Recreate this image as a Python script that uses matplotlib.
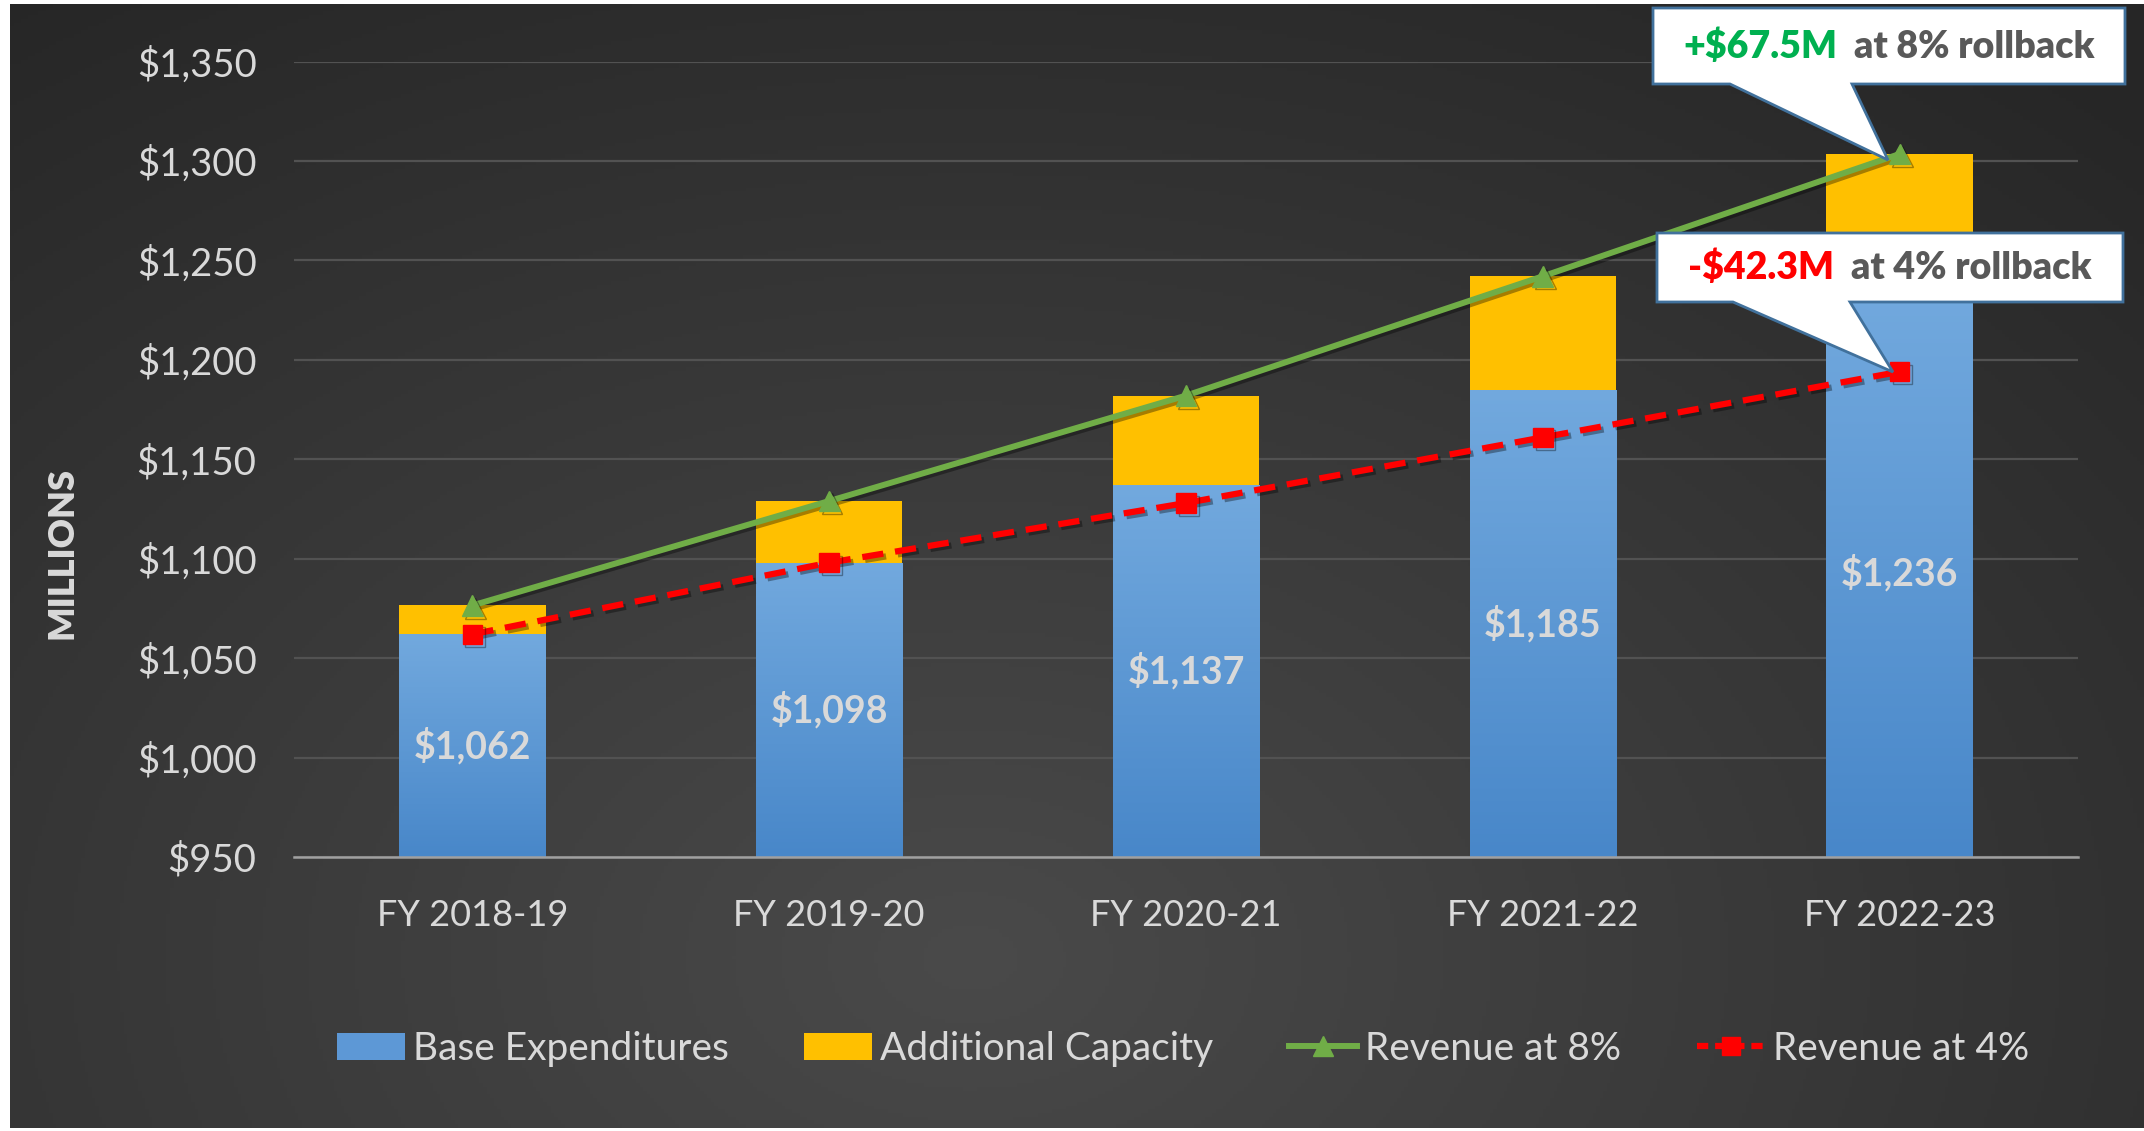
import numpy as np
import matplotlib.pyplot as plt
import matplotlib.patheffects as pe
from matplotlib.colors import LinearSegmentedColormap
from matplotlib.lines import Line2D
from matplotlib.patches import Patch, Polygon
from matplotlib.offsetbox import TextArea, HPacker, AnnotationBbox

plt.rcParams['font.family'] = ['Lato', 'DejaVu Sans']

years = ["FY 2018-19", "FY 2019-20", "FY 2020-21", "FY 2021-22", "FY 2022-23"]
base_exp = [1062, 1098, 1137, 1185, 1236]
rev_8 = [1076.5, 1129, 1182, 1242, 1303.5]
rev_4 = [1062, 1098, 1128, 1161, 1194]
add_cap = [r - b for r, b in zip(rev_8, base_exp)]
y_ticks = [950, 1000, 1050, 1100, 1150, 1200, 1250, 1300, 1350]

W, H = 2144, 1131
TXT = "#d9d9d9"
BLUE_TOP, BLUE_BOT = "#72a9de", "#4887c9"
YELLOW = "#ffc000"
GREEN = "#70ad47"
RED = "#ff0000"

fig = plt.figure(figsize=(W / 100, H / 100), dpi=100, facecolor="white")

# dark radial background
bg = fig.add_axes([10 / W, 3 / H, 1 - 10 / W, 1 - 7 / H], zorder=-10)
gy, gx = np.mgrid[0:1:300j, 0:1:600j]
r = np.clip(np.sqrt(((gx - 0.45) / 0.8) ** 2 + ((gy - 0.85) / 1.05) ** 2), 0, 1)
shade = (0x4a - (0x4a - 0x26) * r) / 255
bg.imshow(np.dstack([shade] * 3), aspect="auto", extent=(0, 1, 0, 1))
bg.axis("off")

ax = fig.add_axes([294 / W, 1 - 857 / H, (2078 - 294) / W, (857 - 61.5) / H])
ax.set_facecolor("none")
x = np.arange(len(years))
ymin, ymax = y_ticks[0], y_ticks[-1]

ax.grid(axis="y", color="#525252", lw=1.6, zorder=0)
ax.set_axisbelow(True)

cmap = LinearSegmentedColormap.from_list("bl", [BLUE_BOT, BLUE_TOP])
grad = np.linspace(0, 1, 256).reshape(-1, 1)
bars = ax.bar(x, base_exp, width=0.41, color="none", zorder=2)
for rect in bars:
    x0 = rect.get_x()
    im = ax.imshow(grad, cmap=cmap, aspect="auto", origin="lower",
                   extent=(x0, x0 + rect.get_width(), ymin, rect.get_height()),
                   zorder=2)
    im.set_clip_path(rect)
ax.bar(x, add_cap, bottom=base_exp, width=0.41, color=YELLOW, zorder=2)

for xi, v in zip(x, base_exp):
    ax.text(xi, (ymin + v) / 2, f"${v:,}", ha="center", va="center",
            color=TXT, fontsize=27, fontweight="bold", zorder=3)

shadow = [pe.SimpleLineShadow(offset=(2, -2), alpha=0.35, shadow_color="black"), pe.Normal()]
ax.plot(x, rev_8, color=GREEN, lw=4.3, marker="^", ms=15, zorder=4,
        path_effects=shadow)
ax.plot(x, rev_4, color=RED, lw=4.5, ls=(0, (3.4, 1.9)), marker="s", ms=14,
        zorder=4, path_effects=shadow)

ax.set_xlim(-0.5, len(years) - 0.5)
ax.set_ylim(ymin, ymax)
ax.set_yticks(y_ticks)
ax.set_yticklabels([f"${t:,}" for t in y_ticks])
ax.set_xticks(x)
ax.set_xticklabels(years)
ax.tick_params(axis="y", length=0, pad=27, labelsize=27.5, labelcolor=TXT)
ax.tick_params(axis="x", length=0, pad=30, labelsize=26, labelcolor=TXT)
for s in ["top", "right", "left"]:
    ax.spines[s].set_visible(False)
ax.spines["bottom"].set_color("#a0a0a0")
ax.spines["bottom"].set_linewidth(1.8)

fig.text(62 / W, 1 - 553 / H, "MILLIONS", rotation=90, ha="center", va="center",
         color=TXT, fontsize=26, fontweight="heavy")

handles = [
    Patch(facecolor="#5d98d6", label="Base Expenditures"),
    Patch(facecolor=YELLOW, label="Additional Capacity"),
    Line2D([], [], color=GREEN, lw=4.3, marker="^", ms=14, label="Revenue at 8%"),
    Line2D([], [], color=RED, lw=4.5, ls=(0, (1.8, 1.1)), marker="s", ms=13, label="Revenue at 4%"),
]
fig.legend(handles=handles, loc="center", bbox_to_anchor=(1183 / W, 1 - 1049 / H),
           ncol=4, frameon=False, fontsize=28, labelcolor=TXT, handlelength=1.75,
           handleheight=0.7, handletextpad=0.2, columnspacing=1.95)


def px(pts):
    return [(a / W, 1 - b / H) for a, b in pts]


def callout(box, base, tip, parts):
    l, t, rr, b = box
    pts = [(l, t), (rr, t), (rr, b), (base[1], b), tip, (base[0], b), (l, b)]
    fig.patches.append(Polygon(px(pts), closed=True, facecolor="white",
                               edgecolor="#41719c", lw=2, transform=fig.transFigure,
                               zorder=20))
    areas = [TextArea(s, textprops=dict(color=c, fontsize=27, fontweight="heavy"))
             for s, c in parts]
    pack = HPacker(children=areas, pad=0, sep=12, align="baseline")
    ab = AnnotationBbox(pack, ((l + rr) / 2 / W, 1 - (t + b) / 2 / H),
                        xycoords="figure fraction", frameon=False,
                        box_alignment=(0.5, 0.5), zorder=21)
    fig.add_artist(ab)


callout((1653, 8, 2125, 84), (1730, 1852), (1888, 160),
        [("+$67.5M", "#00b050"), ("at 8% rollback", "#595959")])
callout((1657, 233, 2123, 302), (1733, 1850), (1893, 372),
        [("-$42.3M", "#ff0000"), ("at 4% rollback", "#595959")])

fig.savefig("out.png", dpi=100, facecolor=fig.get_facecolor())
